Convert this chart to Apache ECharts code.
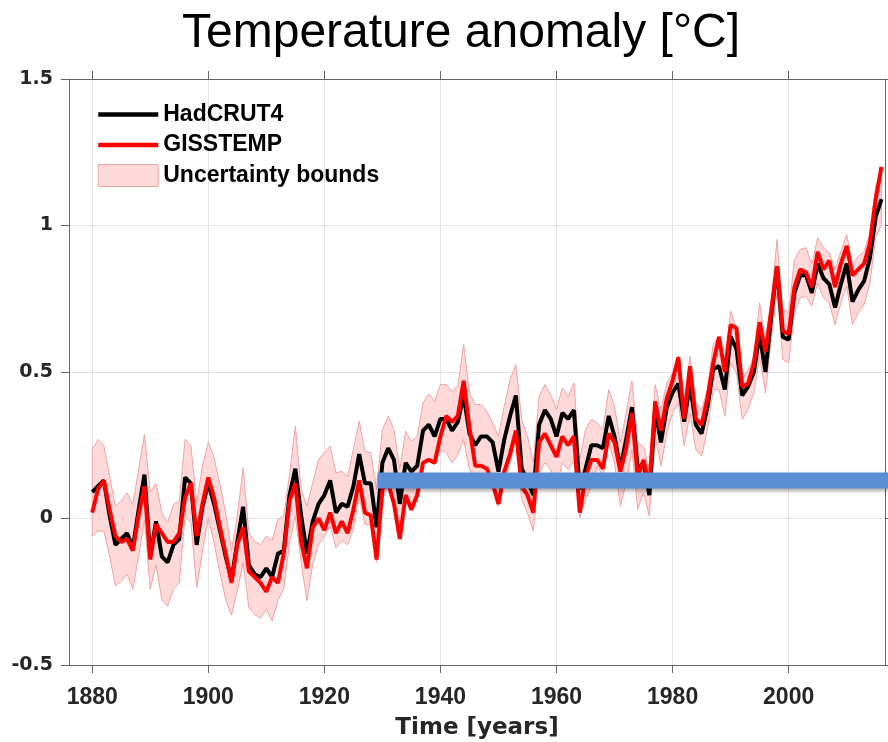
<!DOCTYPE html>
<html>
<head>
<meta charset="utf-8">
<script src="https://cdn.jsdelivr.net/npm/echarts@6/dist/echarts.min.js"></script>
<style>html,body{margin:0;padding:0;background:#fff;}#chart{width:888px;height:742px;}</style>
</head>
<body>
<div id="chart"></div>
<script>
// ---- data ----
const firstYear = 1880;
const hadcrut4 = [
 0.09, 0.11, 0.13, 0.01,-0.09,-0.07,-0.05,-0.10, 0.03, 0.15,
-0.13,-0.01,-0.13,-0.15,-0.09,-0.07, 0.14, 0.12,-0.09, 0.04,
 0.12, 0.05,-0.04,-0.13,-0.21,-0.08, 0.04,-0.16,-0.19,-0.20,
-0.17,-0.20,-0.12,-0.11, 0.08, 0.17, 0.01,-0.12,-0.01, 0.05,
 0.08, 0.13, 0.02, 0.05, 0.04, 0.11, 0.22, 0.12, 0.12,-0.03,
 0.19, 0.24, 0.20, 0.05, 0.19, 0.16, 0.18, 0.30, 0.32, 0.28,
 0.34, 0.34, 0.30, 0.33, 0.42, 0.29, 0.25, 0.28, 0.28, 0.26,
 0.16, 0.27, 0.35, 0.42, 0.17, 0.13, 0.08, 0.32, 0.37, 0.34,
 0.28, 0.36, 0.34, 0.37, 0.10, 0.17, 0.25, 0.25, 0.24, 0.35,
 0.28, 0.17, 0.27, 0.38, 0.17, 0.19, 0.08, 0.37, 0.26, 0.38,
 0.43, 0.46, 0.33, 0.46, 0.32, 0.29, 0.38, 0.51, 0.52, 0.44,
 0.62, 0.58, 0.42, 0.45, 0.50, 0.63, 0.50, 0.69, 0.86, 0.62,
 0.61, 0.77, 0.83, 0.83, 0.77, 0.87, 0.82, 0.80, 0.72, 0.80,
 0.87, 0.74, 0.78, 0.81, 0.89, 1.03, 1.09
];
const gisstemp = [
 0.02, 0.10, 0.13, 0.03,-0.06,-0.08,-0.07,-0.11, 0.01, 0.11,
-0.14,-0.02,-0.05,-0.08,-0.08,-0.05, 0.07, 0.12,-0.06, 0.05,
 0.14, 0.07,-0.03,-0.12,-0.22,-0.09,-0.03,-0.18,-0.20,-0.22,
-0.25,-0.20,-0.22,-0.12, 0.06, 0.12,-0.08,-0.17,-0.03, 0.00,
-0.04, 0.02,-0.05,-0.01,-0.05, 0.03, 0.13, 0.02, 0.01,-0.14,
 0.10, 0.12, 0.05,-0.07, 0.08, 0.03, 0.08, 0.19, 0.20, 0.19,
 0.28, 0.35, 0.33, 0.35, 0.47, 0.31, 0.18, 0.18, 0.17, 0.12,
 0.05, 0.16, 0.22, 0.30, 0.11, 0.08, 0.02, 0.26, 0.29, 0.25,
 0.21, 0.28, 0.25, 0.28, 0.02, 0.14, 0.20, 0.20, 0.17, 0.29,
 0.26, 0.16, 0.24, 0.36, 0.14, 0.20, 0.11, 0.40, 0.30, 0.41,
 0.47, 0.55, 0.34, 0.52, 0.34, 0.32, 0.41, 0.53, 0.62, 0.50,
 0.66, 0.65, 0.45, 0.46, 0.53, 0.67, 0.57, 0.71, 0.86, 0.64,
 0.63, 0.79, 0.85, 0.84, 0.79, 0.91, 0.85, 0.88, 0.79, 0.87,
 0.93, 0.83, 0.85, 0.87, 0.94, 1.09, 1.20
];
const bandUpper = [
 0.235, 0.27, 0.25, 0.144, 0.042, 0.059, 0.088, 0.048, 0.167, 0.287,
 0.09, 0.12, 0.02,-0.015, 0.048, 0.059, 0.27, 0.25, 0.053, 0.18,
 0.26, 0.207, 0.116, 0.019,-0.11, 0.008, 0.173,-0.05,-0.077,-0.09,
-0.06,-0.075,-0.003, 0.008, 0.15, 0.315, 0.10, 0.042, 0.122, 0.201,
 0.224, 0.247, 0.156, 0.161, 0.144, 0.235, 0.332, 0.23, 0.224, 0.099,
 0.304, 0.349, 0.304, 0.167, 0.298, 0.264, 0.281, 0.395, 0.425, 0.40,
 0.457, 0.457, 0.435, 0.452, 0.594, 0.429, 0.389, 0.389, 0.366, 0.326,
 0.281, 0.383, 0.474, 0.525, 0.338, 0.281, 0.19, 0.417, 0.457, 0.423,
 0.372, 0.446, 0.417, 0.463, 0.201, 0.304, 0.338, 0.326, 0.304, 0.44,
 0.383, 0.258, 0.36, 0.47, 0.258, 0.247, 0.167, 0.457, 0.372, 0.463,
 0.497, 0.554, 0.406, 0.554, 0.395, 0.372, 0.44, 0.594, 0.622, 0.525,
 0.708, 0.651, 0.474, 0.508, 0.554, 0.736, 0.60, 0.75, 0.952, 0.713,
 0.702, 0.884, 0.918, 0.924, 0.867, 0.958, 0.924, 0.907, 0.85, 0.912,
 0.969, 0.867, 0.895, 0.912, 0.975, 1.134, 1.19
];
const bandLower = [
-0.06,-0.043,-0.043,-0.128,-0.23,-0.214,-0.19,-0.242,-0.128,-0.004,
-0.242,-0.157,-0.277,-0.30,-0.24,-0.22, 0.008,-0.015,-0.236,-0.111,
 0.002,-0.083,-0.185,-0.277,-0.33,-0.248,-0.151,-0.305,-0.328,-0.34,
-0.31,-0.35,-0.28,-0.24,-0.085, 0.008,-0.15,-0.28,-0.155,-0.09,
-0.06,-0.026,-0.10,-0.075,-0.09,-0.035, 0.076,-0.02,-0.023,-0.15,
 0.065, 0.116, 0.065,-0.066, 0.076, 0.042, 0.065, 0.184, 0.205, 0.184,
 0.235, 0.224, 0.19, 0.218, 0.27, 0.167, 0.139, 0.144, 0.144, 0.11,
 0.042, 0.122, 0.19, 0.27, 0.065, 0.019,-0.043, 0.156, 0.19, 0.167,
 0.11, 0.19, 0.167, 0.196, 0.002, 0.065, 0.11, 0.179, 0.144, 0.258,
 0.19, 0.042, 0.122, 0.235, 0.031, 0.088, 0.008, 0.281, 0.179, 0.292,
 0.361, 0.395, 0.247, 0.361, 0.235, 0.213, 0.304, 0.44, 0.44, 0.349,
 0.531, 0.497, 0.338, 0.372, 0.429, 0.554, 0.429, 0.61, 0.77, 0.543,
 0.531, 0.702, 0.753, 0.759, 0.725, 0.804, 0.753, 0.736, 0.662, 0.736,
 0.793, 0.662, 0.702, 0.73, 0.804, 0.958, 1.003
];
const years = hadcrut4.map((_, i) => firstYear + i);
const xTicks = [1880, 1900, 1920, 1940, 1960, 1980, 2000];
const yTicks = [-0.5, 0, 0.5, 1, 1.5];
// overlaid blue bar (annotation in the reference)
const barStart = 1929.2, barEnd = 2017.3, barValue = 0.13;

const xMin = 1876, xMax = 2016.6, yMin = -0.5, yMax = 1.5;

const chart = echarts.init(document.getElementById('chart'), null, {renderer: 'canvas'});
const axisColor = '#666';
const textColor = '#262626';
const option = {
  animation: false,
  backgroundColor: '#fff',
  title: {
    text: 'Temperature anomaly [°C]',
    left: 182, top: 10, padding: 0,
    textStyle: {fontFamily: 'Liberation Sans', fontSize: 48, fontWeight: 'normal', color: '#000'}
  },
  legend: {
    orient: 'vertical', left: 96, top: 103, padding: 0,
    itemWidth: 60, itemHeight: 22, itemGap: 7.5,
    textStyle: {fontFamily: 'Liberation Sans', fontWeight: 'bold', fontSize: 23, color: '#000', lineHeight: 22},
    data: [
      {name: 'HadCRUT4', itemStyle: {opacity: 0}, lineStyle: {width: 4.5, color: '#000'}},
      {name: 'GISSTEMP', itemStyle: {opacity: 0}, lineStyle: {width: 4.5, color: '#ff0000'}},
      {name: 'Uncertainty bounds', icon: 'rect', itemStyle: {color: '#fdd9d9', borderColor: '#f2a3a3', borderWidth: 1}}
    ],
    selectedMode: false
  },
  grid: {left: 69, right: 3, top: 79, bottom: 77, containLabel: false, outerBoundsMode: 'none'},
  xAxis: [{
    type: 'value', min: xMin, max: xMax, position: 'bottom',
    name: 'Time [years]', nameLocation: 'middle', nameGap: 52,
    nameTextStyle: {fontFamily: 'DejaVu Sans', fontWeight: 'bold', fontSize: 23, color: textColor},
    axisLine: {show: true, onZero: false, lineStyle: {color: axisColor, width: 1}},
    axisTick: {show: true, inside: false, length: 8, customValues: xTicks, lineStyle: {color: axisColor}},
    axisLabel: {customValues: xTicks, margin: 21, fontFamily: 'Liberation Sans', fontWeight: 'bold', fontSize: 23, color: textColor,
      formatter: function (v) { return String(v); }},
    splitLine: {show: true, lineStyle: {color: '#e3e3e3', width: 1}}
  }, {
    type: 'value', min: xMin, max: xMax, position: 'top',
    axisLine: {show: true, onZero: false, lineStyle: {color: axisColor, width: 1}},
    axisTick: {show: true, inside: false, length: 8, customValues: xTicks, lineStyle: {color: axisColor}},
    axisLabel: {show: false, customValues: xTicks},
    splitLine: {show: false}
  }],
  yAxis: [{
    type: 'value', min: yMin, max: yMax, interval: 0.5, position: 'left',
    axisLine: {show: true, onZero: false, lineStyle: {color: axisColor, width: 1}},
    axisTick: {show: true, inside: false, length: 8, lineStyle: {color: axisColor}},
    axisLabel: {margin: 16, fontFamily: 'DejaVu Sans', fontWeight: 'bold', fontSize: 19, color: textColor},
    splitLine: {show: true, lineStyle: {color: '#e3e3e3', width: 1}}
  }, {
    type: 'value', min: yMin, max: yMax, interval: 0.5, position: 'right',
    axisLine: {show: true, onZero: false, lineStyle: {color: axisColor, width: 1}},
    axisTick: {show: true, inside: false, length: 8, lineStyle: {color: axisColor}},
    axisLabel: {show: false},
    splitLine: {show: false}
  }],
  series: [
    {
      name: 'Uncertainty bounds', type: 'custom', xAxisIndex: 0, yAxisIndex: 0, z: 1,
      data: years.map((y, i) => [y, bandLower[i], bandUpper[i]]),
      encode: {x: 0, y: [1, 2]},
      itemStyle: {color: '#fdd9d9'},
      silent: true,
      renderItem: function (params, api) {
        if (params.dataIndex !== 0) return null;
        const pts = [];
        for (let i = 0; i < years.length; i++) pts.push(api.coord([years[i], bandUpper[i]]));
        for (let i = years.length - 1; i >= 0; i--) pts.push(api.coord([years[i], bandLower[i]]));
        return {type: 'polygon', shape: {points: pts}, style: {fill: '#fdd9d9', stroke: '#f2a3a3', lineWidth: 1}};
      }
    },
    {
      name: 'HadCRUT4', type: 'line', z: 3, symbol: 'none', silent: true,
      data: years.map((y, i) => [y, hadcrut4[i]]),
      lineStyle: {color: '#000', width: 4},
      itemStyle: {color: '#000'}
    },
    {
      name: 'GISSTEMP', type: 'line', z: 4, symbol: 'none', silent: true,
      data: years.map((y, i) => [y, gisstemp[i]]),
      lineStyle: {color: '#ff0000', width: 4},
      itemStyle: {color: '#ff0000'}
    },
    {
      name: 'bar', type: 'line', z: 6, symbol: 'none', silent: true, clip: false,
      data: [[barStart, barValue], [barEnd, barValue]],
      lineStyle: {color: '#5a8fd6', width: 16, cap: 'butt',
        shadowColor: 'rgba(0,0,0,0.35)', shadowBlur: 4, shadowOffsetY: 3}
    }
  ]
};
chart.setOption(option);
</script>
</body>
</html>
